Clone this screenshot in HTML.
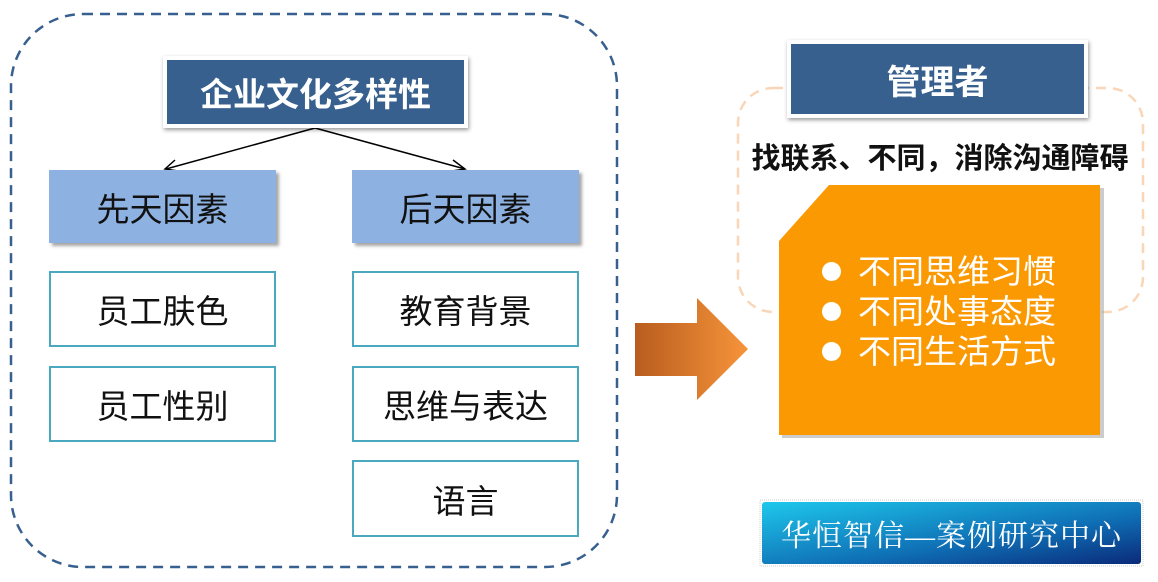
<!DOCTYPE html>
<html><head><meta charset="utf-8"><style>
body{margin:0;width:1158px;height:582px;background:#fff;position:relative;overflow:hidden;font-family:"Liberation Sans","Noto Sans CJK SC",sans-serif}
.a{position:absolute;box-sizing:border-box;display:flex;align-items:center;justify-content:center;white-space:nowrap}
.title{background:#37608f;color:#fff;font-weight:bold;border:4px solid #fff;box-shadow:1px 2px 4px rgba(0,0,0,.4)}
.lb{background:#8db2e2;font-size:33px;color:#111;box-shadow:3px 3px 3px rgba(0,0,0,.35)}
.wb{border:2px solid #4aa9bf;background:#fff;font-size:33px;color:#111}
</style></head><body>
<svg style="position:absolute;left:0;top:0" width="1158" height="582">
<rect x="11" y="14" width="606" height="553" rx="72" fill="none" stroke="#37608f" stroke-width="2.5" stroke-dasharray="10,7"/>
<rect x="738" y="88" width="405" height="224" rx="35" fill="none" stroke="#fad6b8" stroke-width="2.5" stroke-dasharray="10,7"/>
<line x1="315" y1="128" x2="166" y2="169" stroke="#000" stroke-width="1.5"/>
<polyline points="175,160 165,169 178,171" fill="none" stroke="#000" stroke-width="1.5"/>
<line x1="315" y1="128" x2="465" y2="169" stroke="#000" stroke-width="1.5"/>
<polyline points="453,160 465,169 452,171" fill="none" stroke="#000" stroke-width="1.5"/>
<defs><linearGradient id="g" x1="0" y1="0" x2="1" y2="0"><stop offset="0" stop-color="#b85d1f"/><stop offset="1" stop-color="#f7943a"/></linearGradient>
<linearGradient id="h" x1="0" y1="0" x2="1" y2="1"><stop offset="0" stop-color="#1ec8ec"/><stop offset="0.6" stop-color="#0f6fb5"/><stop offset="1" stop-color="#0a2a7a"/></linearGradient></defs>
<polygon points="635,323 697,323 697,298 748,349 697,400 697,376 635,376" fill="url(#g)"/>
<polygon points="832,188 1104,188 1104,438 782,438 782,244" fill="#999" opacity=".5"/>
<polygon points="829,185 1100,185 1100,435 779,435 779,241" fill="#fb9902"/>
<rect x="760" y="500" width="383" height="66" fill="#fff" stroke="#ccc" stroke-dasharray="1,1"/>
<rect x="762" y="502" width="379" height="62" rx="3" fill="url(#h)"/>
</svg>
<div class="a title" style="left:163px;top:56px;width:305px;height:72px;font-size:33px">企业文化多样性</div>
<div class="a lb" style="left:49px;top:170px;width:227px;height:73px">先天因素</div>
<div class="a lb" style="left:352px;top:170px;width:227px;height:73px">后天因素</div>
<div class="a wb" style="left:49px;top:271px;width:227px;height:76px">员工肤色</div>
<div class="a wb" style="left:49px;top:366px;width:227px;height:76px">员工性别</div>
<div class="a wb" style="left:352px;top:271px;width:227px;height:76px">教育背景</div>
<div class="a wb" style="left:352px;top:366px;width:227px;height:76px">思维与表达</div>
<div class="a wb" style="left:352px;top:460px;width:227px;height:77px">语言</div>
<div class="a title" style="left:787px;top:40px;width:301px;height:78px;font-size:34px">管理者</div>
<div class="a" style="left:740px;top:136px;width:400px;height:40px;font-size:29px;font-weight:bold;color:#111;letter-spacing:0px">找联系、不同，消除沟通障碍</div>
<div style="position:absolute;left:822px;top:252px;color:#fff;font-size:33px;line-height:40px;white-space:nowrap">
<div><span style="display:inline-block;width:19px;height:19px;border-radius:50%;background:#fff;margin-right:17px;vertical-align:2px"></span>不同思维习惯</div>
<div><span style="display:inline-block;width:19px;height:19px;border-radius:50%;background:#fff;margin-right:17px;vertical-align:2px"></span>不同处事态度</div>
<div><span style="display:inline-block;width:19px;height:19px;border-radius:50%;background:#fff;margin-right:17px;vertical-align:2px"></span>不同生活方式</div>
</div>
<div class="a" style="left:762px;top:502px;width:379px;height:62px;color:#fff;font-size:30px;font-family:'Liberation Serif','Noto Serif CJK SC',serif;letter-spacing:1px">华恒智信—案例研究中心</div>
</body></html>
